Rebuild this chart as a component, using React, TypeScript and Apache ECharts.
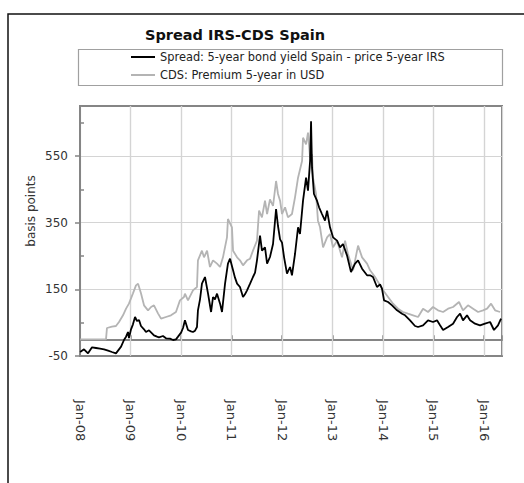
import React, { useEffect, useRef } from "react";
import * as echarts from "echarts";

// ---- data ----
const spreadDates = [
  "2008-01-02","2008-01-30","2008-02-28","2008-03-28","2008-04-26","2008-05-25","2008-06-23","2008-07-22","2008-08-19","2008-09-17",
  "2008-10-09","2008-10-24","2008-11-14","2008-11-29","2008-12-13","2008-12-20","2009-01-04","2009-01-18","2009-02-02","2009-02-16",
  "2009-03-03","2009-03-17","2009-04-08","2009-04-22","2009-05-14","2009-06-05","2009-06-19","2009-07-11","2009-07-25","2009-08-23",
  "2009-09-14","2009-10-13","2009-11-04","2009-11-25","2009-12-10","2010-01-01","2010-01-15","2010-01-29","2010-02-20","2010-03-14",
  "2010-03-28","2010-04-12","2010-04-26","2010-05-03","2010-05-18","2010-06-01","2010-06-23","2010-07-15","2010-08-06","2010-08-20",
  "2010-09-03","2010-09-18","2010-10-10","2010-10-24","2010-11-15","2010-12-06","2010-12-21","2011-01-12","2011-01-26","2011-02-10",
  "2011-03-03","2011-03-25","2011-04-08","2011-04-23","2011-05-15","2011-06-05","2011-06-20","2011-07-04","2011-07-26","2011-08-09",
  "2011-08-31","2011-09-15","2011-10-06","2011-10-28","2011-11-19","2011-12-03","2011-12-18","2012-01-01","2012-01-16","2012-02-06",
  "2012-02-28","2012-03-13","2012-04-04","2012-04-26","2012-05-10","2012-06-01","2012-06-23","2012-07-07","2012-07-22","2012-07-29",
  "2012-08-05","2012-08-19","2012-09-10","2012-09-25","2012-10-16","2012-11-07","2012-11-22","2012-12-13","2013-01-04","2013-02-02",
  "2013-02-24","2013-03-17","2013-04-15","2013-05-14","2013-06-12","2013-07-04","2013-08-02","2013-09-07","2013-09-29","2013-10-20",
  "2013-11-18","2013-12-10","2013-12-24","2014-01-08","2014-02-06","2014-03-07","2014-04-12","2014-05-18","2014-06-09","2014-07-15",
  "2014-08-20","2014-09-11","2014-10-17","2014-11-22","2014-12-28","2015-01-26","2015-02-17","2015-03-11","2015-04-16","2015-05-22",
  "2015-06-20","2015-07-12","2015-08-02","2015-08-31","2015-09-22","2015-10-28","2015-12-03","2016-01-08","2016-02-14","2016-03-13",
  "2016-04-11","2016-05-03",
];
const spreadValues = [
  -38,-30,-42,-24,-26,-28,-30,-34,-38,-42,
  -30,-22,-2,8,22,4,30,45,67,55,
  58,40,30,22,27,18,12,8,6,10,
  3,2,-2,0,8,20,34,57,28,24,
  22,26,37,87,120,167,187,137,82,127,
  120,137,107,82,167,227,242,207,185,167,
  157,127,135,147,167,187,200,237,311,266,
  276,227,247,286,391,340,300,290,246,197,
  217,192,256,336,316,416,485,446,535,654,
  515,436,416,396,376,356,386,336,306,296,
  276,286,252,202,227,237,212,192,192,187,
  157,165,152,117,112,102,87,77,72,57,
  40,37,42,57,52,57,42,28,37,47,
  67,77,57,72,57,47,42,47,52,28,
  42,62,
];

const cdsDates = [
  "2008-01-02","2008-07-07","2008-07-14","2008-08-19","2008-09-17","2008-10-09","2008-11-07","2008-11-29","2008-12-20","2009-01-18",
  "2009-02-09","2009-02-24","2009-03-17","2009-04-08","2009-05-07","2009-05-29","2009-06-19","2009-07-18","2009-08-09","2009-09-14",
  "2009-10-20","2009-11-25","2009-12-24","2010-01-22","2010-01-29","2010-02-20","2010-03-28","2010-04-26","2010-05-03","2010-06-01",
  "2010-06-16","2010-07-08","2010-07-29","2010-08-20","2010-09-18","2010-10-10","2010-10-31","2010-11-29","2010-12-06","2011-01-04",
  "2011-01-12","2011-02-10","2011-03-03","2011-03-25","2011-04-23","2011-05-15","2011-06-05","2011-07-04","2011-07-19","2011-08-09",
  "2011-08-31","2011-09-15","2011-10-06","2011-10-28","2011-11-19","2011-12-03","2011-12-18","2012-01-01","2012-01-23","2012-02-13",
  "2012-03-13","2012-04-04","2012-04-26","2012-05-25","2012-06-01","2012-06-23","2012-07-07","2012-07-22","2012-08-05","2012-08-12",
  "2012-09-03","2012-09-17","2012-10-02","2012-10-24","2012-11-22","2012-12-13","2013-01-04","2013-02-02","2013-03-10","2013-04-01",
  "2013-04-22","2013-05-29","2013-07-04","2013-08-02","2013-09-07","2013-09-29","2013-11-04","2013-12-10","2014-01-01","2014-02-06",
  "2014-03-14","2014-04-19","2014-05-25","2014-06-30","2014-08-06","2014-09-11","2014-10-17","2014-11-22","2014-12-28","2015-02-02",
  "2015-03-11","2015-04-16","2015-05-22","2015-07-04","2015-08-02","2015-09-07","2015-10-14","2015-11-19","2015-12-25","2016-01-23",
  "2016-02-21","2016-03-21","2016-04-26",
];
const cdsValues = [
  0,0,34,38,40,52,72,92,107,138,
  162,167,138,102,87,97,102,78,62,67,
  72,82,117,127,137,117,147,157,237,266,
  246,266,217,237,227,217,246,306,361,336,
  266,246,237,222,237,242,266,296,386,366,
  416,376,420,400,475,436,416,376,396,366,
  376,426,485,535,605,585,620,545,555,485,
  436,356,336,276,306,316,276,296,246,296,
  256,207,281,246,227,207,187,162,147,127,
  107,92,82,77,72,67,92,82,97,87,
  82,92,97,112,87,102,92,82,87,92,
  107,87,82,
];

const xTickDates = ["2008-01-01","2009-01-01","2010-01-01","2011-01-01","2012-01-01","2013-01-01","2014-01-01","2015-01-01","2016-01-01"];
const xTickLabels = ["Jan-08","Jan-09","Jan-10","Jan-11","Jan-12","Jan-13","Jan-14","Jan-15","Jan-16"];
const xRange = ["2008-01-01", "2016-05-10"];
const yMajorTicks = [-50, 150, 350, 550];
const yMinorTicks = [50, 250, 450, 650];
const yRange = [-50, 700];

const seriesNames = ["Spread: 5-year bond yield Spain - price 5-year IRS", "CDS: Premium 5-year in USD"];
const titleText = "Spread IRS-CDS Spain";
const yAxisTitle = "basis points";

const DAY = 86400000;
const YEAR = 365.25 * DAY;

const ts = (s: string) => {
  const [y, m, d] = s.split("-").map(Number);
  return Date.UTC(y, m - 1, d);
};

const FONT = "DejaVu Sans";

export default function App() {
  const ref = useRef<HTMLDivElement>(null);
  useEffect(() => {
    if (!ref.current) return;
    const chart = echarts.init(ref.current, undefined, { renderer: "svg" });
    const tickTimes = xTickDates.map(ts);
    const spreadData = spreadDates.map((d, i) => [ts(d), spreadValues[i]]);
    const cdsData = cdsDates.map((d, i) => [ts(d), cdsValues[i]]);
    const axisGray = "#858585";
    const gridGray = "#d4d4d4";
    const xMin = ts(xRange[0]);
    const xMax = ts(xRange[1]);

    const labelFor = (v: number) => {
      let best = 0;
      for (let i = 1; i < tickTimes.length; i++) {
        if (Math.abs(tickTimes[i] - v) < Math.abs(tickTimes[best] - v)) best = i;
      }
      return Math.abs(tickTimes[best] - v) < 5 * DAY ? xTickLabels[best] : "";
    };

    chart.setOption({
      animation: false,
      backgroundColor: "#ffffff",
      title: {
        text: titleText,
        left: 145,
        top: 27,
        padding: 0,
        textStyle: { fontFamily: FONT, fontWeight: "bold", fontSize: 14.5, color: "#111" },
      },
      legend: {
        data: seriesNames,
        orient: "vertical",
        left: 131,
        top: 50,
        padding: 0,
        itemGap: 4,
        itemWidth: 24,
        itemHeight: 2,
        icon: "rect",
        textStyle: { fontFamily: FONT, fontSize: 11.4, color: "#222", lineHeight: 14 },
      },
      graphic: [
        {
          type: "polyline",
          shape: { points: [[8, 483], [8, 14], [524, 14]] },
          style: { stroke: "#111", lineWidth: 1.5, fill: "none" },
          silent: true,
        },
        {
          type: "rect",
          shape: { x: 78.5, y: 49.5, width: 424, height: 36 },
          style: { stroke: "#a0a0a0", lineWidth: 1.2, fill: "none" },
          silent: true,
        },
        {
          type: "text",
          x: 31,
          y: 211,
          rotation: Math.PI / 2,
          style: { text: yAxisTitle, fontFamily: FONT, fontSize: 12, fill: "#333", align: "center", verticalAlign: "middle" },
          silent: true,
        },
      ],
      grid: {
        left: 80,
        right: 22,
        top: 106,
        bottom: 127,
        show: true,
        borderColor: axisGray,
        borderWidth: 2,
        containLabel: false,
      },
      xAxis: [
        {
          type: "value",
          position: "bottom",
          min: xMin,
          max: xMax,
          interval: YEAR,
          axisLine: { onZero: false, lineStyle: { color: axisGray, width: 2 } },
          axisTick: { show: false },
          axisLabel: {
            showMaxLabel: false,
            rotate: -90,
            margin: 44,
            fontFamily: FONT,
            fontSize: 13,
            color: "#333",
            formatter: labelFor,
          },
          splitLine: { show: true, lineStyle: { color: gridGray, width: 1.2 } },
        },
        {
          type: "value",
          position: "bottom",
          min: xMin,
          max: xMax,
          interval: YEAR,
          axisLine: { onZero: true, onZeroAxisIndex: 0, lineStyle: { color: axisGray, width: 2 } },
          axisTick: { show: true, inside: true, length: 4, lineStyle: { color: axisGray, width: 1.5 } },
          axisLabel: { show: false },
          splitLine: { show: false },
        },
      ],
      yAxis: [
        {
          type: "value",
          position: "left",
          min: yRange[0],
          max: yRange[1],
          axisLine: { show: true, lineStyle: { color: axisGray, width: 2 } },
          axisTick: { show: true, length: 5, customValues: yMajorTicks, lineStyle: { color: axisGray, width: 1.5 } },
          axisLabel: { customValues: yMajorTicks, margin: 12, fontFamily: FONT, fontSize: 12, color: "#333" },
          splitLine: { show: true, lineStyle: { color: gridGray, width: 1.2 } },
        },
        {
          type: "value",
          position: "left",
          min: yRange[0],
          max: yRange[1],
          axisLine: { show: false },
          axisTick: { show: true, inside: true, length: 4, customValues: yMinorTicks, lineStyle: { color: axisGray, width: 1.5 } },
          axisLabel: { show: false },
          splitLine: { show: false },
        },
      ],
      series: [
        {
          name: "year gridlines",
          type: "lines",
          coordinateSystem: "cartesian2d",
          xAxisIndex: 0,
          yAxisIndex: 0,
          silent: true,
          z: 1,
          polyline: false,
          lineStyle: { color: gridGray, width: 1.2, opacity: 1 },
          data: tickTimes.slice(1).map((t) => ({ coords: [[t, yRange[0]], [t, yRange[1]]] })),
        },
        {
          name: seriesNames[0],
          type: "line",
          xAxisIndex: 0,
          yAxisIndex: 0,
          data: spreadData,
          showSymbol: false,
          symbol: "none",
          z: 3,
          color: "#000000",
          lineStyle: { color: "#000000", width: 1.8 },
        },
        {
          name: seriesNames[1],
          type: "line",
          xAxisIndex: 0,
          yAxisIndex: 0,
          data: cdsData,
          showSymbol: false,
          symbol: "none",
          z: 2,
          color: "#b4b4b4",
          lineStyle: { color: "#b4b4b4", width: 1.8 },
        },
      ],
    });
    return () => chart.dispose();
  }, []);

  return (
    <div
      ref={ref}
      style={{ position: "fixed", left: 0, top: 0, width: 524, height: 483, background: "#fff" }}
    />
  );
}
